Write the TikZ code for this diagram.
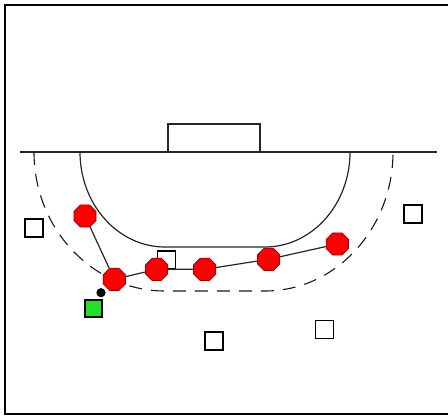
\documentclass[tikz,border=0pt]{standalone}
\usetikzlibrary{shapes.geometric}
\definecolor{deffill}{HTML}{FF0000}
\definecolor{defline}{HTML}{A00000}
\definecolor{carrierfill}{HTML}{22E022}

\begin{document}
\begin{tikzpicture}[
  x=0.5pt, y=-0.5pt,
  court/.style={draw=black!85, line width=0.6pt},
  frameline/.style={draw=black, line width=1pt},
  zone/.style={draw=black!90, line width=0.55pt, dash pattern=on 6.5pt off 4.5pt},
  attacker/.style={draw=black, fill=white, line width=0.6pt, minimum size=9pt, inner sep=0pt},
  carrier/.style={attacker, fill=carrierfill, minimum size=8.5pt},
  defender/.style={regular polygon, regular polygon sides=8, draw=defline, fill=deffill, line width=0.4pt, minimum size=12pt, inner sep=0pt},
  ball/.style={circle, fill=black, minimum size=4.6pt, inner sep=0pt},
  link/.style={draw=black!85, line width=0.6pt}
]
\useasboundingbox (0,0) rectangle (448,416);
\draw[frameline] (450,5) -- (5,5) -- (5,414) -- (450,414);

% court
\draw[court, line width=1pt] (20,152) -- (437,152);
\draw[court] (168,152) -- (168,124) -- (260,124) -- (260,152);
\draw[court] (80,152) arc[start angle=180, end angle=90, x radius=85, y radius=95]
  -- (265,247) arc[start angle=90, end angle=0, x radius=85, y radius=95];
\draw[zone] (34,152) arc[start angle=180, end angle=90, x radius=131, y radius=139]
  -- (265,291) arc[start angle=90, end angle=0, x radius=128, y radius=139];

% attackers
\node[attacker] (att1) at (34,228) {};
\node[attacker] (att2) at (413,214) {};
\node[attacker] (att3) at (214,341) {};
\node[attacker] (att4) at (324.5,329.5) {};
\node[attacker] (att5) at (166.5,260) {};
\node[carrier] (carrier) at (93.5,308.5) {};
\node[ball] (ball) at (101,292.7) {};

% defenders
\node[defender] (def1) at (85,216) {};
\node[defender] (def2) at (114.3,279.3) {};
\node[defender] (def3) at (156.7,269.3) {};
\node[defender] (def4) at (204.7,269.3) {};
\node[defender] (def5) at (268.7,259.3) {};
\node[defender] (def6) at (337.3,244) {};

\draw[link] (def1) -- (def2) -- (def3) -- (def4) -- (def5) -- (def6);

\end{tikzpicture}
\end{document}
